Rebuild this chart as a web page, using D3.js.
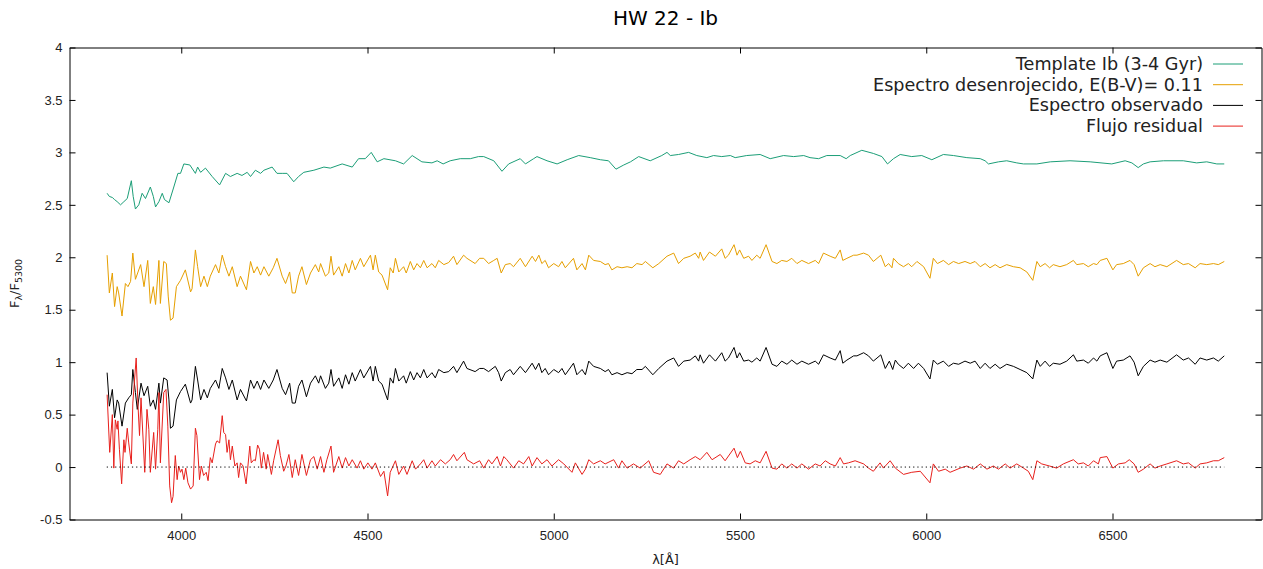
<!DOCTYPE html>
<html>
<head>
<meta charset="utf-8">
<script src="https://cdn.jsdelivr.net/npm/d3@7"></script>
<style>
  body { margin: 0; background: #fff; }
  svg { font-family: "DejaVu Sans", sans-serif; display: block; }
</style>
</head>
<body>
<div id="chart"></div>
<script>
// HW 22 - Ib spectra ([wavelength, F/F5300])
var templateData = [
[3801,2.61],[3807,2.58],[3815,2.57],[3821,2.55],[3828,2.53],[3837,2.50],[3846,2.53],[3855,2.56],[3866,2.73],[3871,2.58],[3877,2.46],[3886,2.50],[3895,2.61],[3904,2.56],[3917,2.67],[3925,2.58],[3931,2.48],[3940,2.53],[3949,2.61],[3955,2.55],[3967,2.52],[3980,2.67],[3991,2.80],[3998,2.80],[4007,2.89],[4023,2.88],[4038,2.80],[4044,2.86],[4052,2.81],[4065,2.85],[4083,2.77],[4103,2.69],[4119,2.80],[4132,2.77],[4150,2.80],[4163,2.78],[4177,2.81],[4186,2.77],[4199,2.83],[4213,2.80],[4222,2.83],[4244,2.86],[4257,2.80],[4271,2.80],[4284,2.80],[4302,2.72],[4315,2.77],[4329,2.81],[4356,2.83],[4383,2.86],[4400,2.85],[4432,2.89],[4459,2.86],[4476,2.94],[4494,2.94],[4510,3.00],[4526,2.91],[4544,2.94],[4575,2.92],[4597,2.89],[4620,2.97],[4646,2.91],[4673,2.90],[4687,2.92],[4703,2.89],[4722,2.92],[4749,2.94],[4776,2.94],[4798,2.96],[4812,2.96],[4839,2.92],[4861,2.82],[4879,2.89],[4910,2.94],[4924,2.89],[4946,2.94],[4955,2.96],[4982,2.92],[5009,2.89],[5036,2.93],[5067,2.97],[5098,2.95],[5125,2.93],[5147,2.92],[5167,2.84],[5188,2.88],[5206,2.91],[5228,2.96],[5259,2.92],[5290,2.97],[5304,3.00],[5313,2.97],[5335,2.98],[5362,3.00],[5384,2.97],[5411,2.95],[5429,2.97],[5451,2.96],[5474,2.97],[5487,2.95],[5518,2.97],[5554,2.98],[5581,2.94],[5617,2.97],[5644,2.96],[5671,2.97],[5688,2.95],[5711,2.94],[5733,2.97],[5769,2.97],[5785,2.94],[5796,2.97],[5827,3.02],[5858,2.99],[5881,2.96],[5896,2.89],[5912,2.94],[5930,2.98],[5961,2.96],[5988,2.97],[6015,2.93],[6046,2.98],[6073,2.97],[6109,2.95],[6145,2.94],[6158,2.92],[6167,2.89],[6194,2.91],[6216,2.92],[6243,2.90],[6261,2.89],[6297,2.89],[6333,2.91],[6386,2.92],[6440,2.91],[6498,2.89],[6534,2.92],[6552,2.90],[6569,2.855],[6583,2.89],[6601,2.91],[6637,2.92],[6690,2.92],[6726,2.90],[6753,2.91],[6780,2.89],[6800,2.89]
];

var derredData = [
[3801,2.02],[3807,1.66],[3815,1.85],[3821,1.53],[3828,1.72],[3832,1.66],[3841,1.44],[3850,1.75],[3857,1.72],[3864,1.77],[3870,2.04],[3877,1.79],[3891,1.93],[3900,1.72],[3910,1.97],[3917,1.56],[3925,1.72],[3931,1.55],[3940,1.97],[3944,1.56],[3953,1.96],[3960,1.94],[3965,1.63],[3971,1.40],[3978,1.42],[3987,1.72],[3998,1.78],[4011,1.88],[4025,1.67],[4029,1.70],[4038,2.07],[4044,1.91],[4052,1.72],[4061,1.82],[4070,1.72],[4078,1.82],[4092,1.93],[4101,1.85],[4110,2.02],[4119,1.91],[4128,1.82],[4137,1.91],[4150,1.72],[4159,1.82],[4175,1.69],[4186,1.96],[4195,1.85],[4204,1.91],[4213,1.83],[4222,1.91],[4235,1.82],[4247,1.90],[4257,1.99],[4271,1.82],[4280,1.75],[4291,1.86],
[4298,1.66],[4306,1.66],[4315,1.82],[4324,1.91],[4336,1.74],[4347,1.85],[4360,1.93],[4369,1.86],[4374,1.94],[4387,1.82],[4396,1.85],[4402,2.01],[4409,1.83],[4423,1.91],[4432,1.82],[4441,1.94],[4450,1.85],[4459,1.97],[4467,1.88],[4481,1.99],[4490,1.91],[4508,2.02],[4515,1.88],[4521,2.02],[4530,1.86],[4539,1.83],[4554,1.69],[4561,1.90],[4569,1.85],[4575,1.99],[4584,1.86],[4597,1.91],[4604,1.85],[4615,1.96],[4624,1.88],[4633,1.94],[4642,1.90],[4651,1.97],[4660,1.90],[4673,1.94],[4682,1.90],[4691,1.97],[4705,1.93],[4718,1.95],[4731,2.01],[4740,1.93],[4758,2.02],[4767,1.99],[4789,1.94],[4801,1.99],
[4812,1.99],[4825,1.94],[4839,1.97],[4848,1.99],[4859,1.85],[4870,1.93],[4883,1.94],[4892,1.91],[4910,1.99],[4924,1.91],[4942,2.01],[4951,1.96],[4960,2.02],[4968,1.94],[4977,1.97],[4986,1.90],[5000,1.94],[5013,1.91],[5022,1.96],[5031,1.90],[5053,1.99],[5062,1.88],[5076,1.94],[5085,1.88],[5094,2.02],[5107,1.97],[5125,1.96],[5138,1.93],[5147,1.94],[5156,1.88],[5170,1.91],[5183,1.90],[5197,1.91],[5210,1.90],[5223,1.94],[5237,1.93],[5246,1.96],[5266,1.90],[5282,1.94],[5304,2.01],
[5322,2.04],[5335,1.94],[5349,1.99],[5366,2.01],[5380,2.04],[5389,1.99],[5393,2.05],[5402,1.97],[5418,2.05],[5434,2.01],[5451,2.08],[5460,1.99],[5469,2.02],[5484,2.12],[5492,2.02],[5499,2.07],[5510,1.99],[5523,2.01],[5532,1.97],[5545,2.02],[5554,1.99],[5570,2.12],[5586,1.96],[5599,1.94],[5612,1.97],[5626,1.96],[5639,1.99],[5653,1.94],[5666,1.97],[5684,1.94],[5702,1.97],[5711,1.94],[5724,2.04],[5742,2.01],[5756,1.99],[5769,2.07],[5776,1.97],[5787,1.99],[5805,2.02],
[5814,2.02],[5832,2.04],[5845,2.02],[5858,1.96],[5878,2.02],[5890,1.91],[5899,1.94],[5908,1.90],[5912,1.99],[5925,1.94],[5939,1.91],[5952,1.94],[5961,1.91],[5975,1.96],[5993,1.91],[6010,1.80],[6019,1.99],[6030,1.94],[6046,1.97],[6060,1.93],[6073,1.96],[6087,1.94],[6104,1.96],[6118,1.94],[6131,1.96],[6145,1.91],[6158,1.94],[6171,1.90],[6185,1.93],[6198,1.90],[6216,1.93],[6234,1.91],[6252,1.90],[6270,1.86],[6286,1.78],[6297,1.96],[6306,1.91],[6319,1.94],[6331,1.90],
[6341,1.93],[6359,1.91],[6377,1.93],[6395,1.97],[6404,1.93],[6422,1.94],[6435,1.91],[6449,1.94],[6458,1.93],[6467,1.97],[6485,1.99],[6501,1.88],[6511,1.93],[6529,1.94],[6547,1.97],[6558,1.93],[6569,1.82],[6583,1.90],[6601,1.94],[6614,1.91],[6628,1.93],[6646,1.91],[6672,1.97],[6690,1.93],[6704,1.94],[6722,1.90],[6735,1.94],[6753,1.93],[6771,1.94],[6784,1.93],[6800,1.96]
];

var observedData = [
[3801,0.90],[3807,0.58],[3815,0.74],[3821,0.47],[3828,0.64],[3832,0.61],[3841,0.39],[3850,0.61],[3859,0.66],[3866,0.69],[3870,0.93],[3877,0.71],[3882,0.55],[3892,0.80],[3900,0.68],[3910,0.77],[3917,0.58],[3925,0.64],[3931,0.55],[3940,0.80],[3944,0.61],[3953,0.85],[3962,0.83],[3967,0.64],[3971,0.37],[3978,0.39],[3987,0.64],[3998,0.72],[4011,0.79],[4025,0.61],[4029,0.64],[4038,0.96],[4044,0.83],[4052,0.64],[4061,0.74],[4070,0.66],[4078,0.75],[4092,0.83],[4101,0.75],[4110,0.94],[4119,0.85],[4128,0.74],[4137,0.83],[4150,0.64],[4159,0.74],[4175,0.63],[4186,0.83],[4195,0.75],[4204,0.82],[4213,0.74],[4222,0.83],[4235,0.75],[4247,0.83],[4257,0.93],[4271,0.75],[4280,0.69],[4291,0.80],
[4298,0.61],[4306,0.61],[4315,0.77],[4324,0.83],[4336,0.67],[4347,0.80],[4360,0.87],[4369,0.80],[4374,0.87],[4387,0.75],[4396,0.80],[4402,0.93],[4409,0.77],[4423,0.85],[4432,0.75],[4441,0.88],[4450,0.79],[4459,0.90],[4467,0.82],[4481,0.93],[4490,0.85],[4508,0.96],[4515,0.82],[4521,0.96],[4530,0.82],[4539,0.79],[4554,0.64],[4561,0.85],[4569,0.80],[4575,0.94],[4584,0.82],[4597,0.87],[4604,0.80],[4615,0.91],[4624,0.83],[4633,0.90],[4642,0.85],[4651,0.93],[4660,0.85],[4673,0.90],[4682,0.85],[4691,0.93],[4705,0.90],[4718,0.91],[4731,0.96],[4740,0.90],[4758,1.01],[4767,0.94],[4789,0.91],[4801,0.94],
[4812,0.94],[4825,0.91],[4843,0.96],[4852,0.90],[4859,0.82],[4870,0.90],[4883,0.93],[4892,0.88],[4910,0.96],[4924,0.90],[4942,0.99],[4951,0.93],[4960,0.99],[4968,0.90],[4977,0.94],[4986,0.88],[5000,0.93],[5013,0.90],[5022,0.94],[5031,0.88],[5053,0.99],[5062,0.88],[5076,0.93],[5085,0.88],[5094,1.01],[5107,0.96],[5125,0.94],[5138,0.91],[5147,0.93],[5156,0.88],[5170,0.90],[5183,0.88],[5197,0.90],[5210,0.89],[5223,0.93],[5237,0.93],[5246,0.96],[5266,0.88],[5282,0.94],[5304,1.01],
[5322,1.04],[5335,0.96],[5349,1.01],[5366,1.02],[5380,1.06],[5389,1.01],[5393,1.07],[5402,0.99],[5418,1.07],[5434,1.01],[5451,1.09],[5460,1.01],[5469,1.04],[5484,1.14],[5492,1.04],[5499,1.09],[5510,1.01],[5523,1.02],[5532,1.00],[5545,1.04],[5554,1.01],[5570,1.14],[5586,0.98],[5599,0.96],[5612,1.01],[5626,0.98],[5639,1.02],[5653,0.98],[5666,1.01],[5684,0.98],[5702,1.01],[5711,0.98],[5724,1.07],[5742,1.04],[5756,1.02],[5769,1.11],[5776,0.99],[5787,1.02],[5805,1.06],
[5814,1.06],[5832,1.09],[5845,1.06],[5858,1.01],[5878,1.07],[5890,0.94],[5901,1.01],[5910,0.93],[5917,1.02],[5925,0.98],[5939,0.94],[5952,0.99],[5966,0.94],[5979,0.99],[5993,0.94],[6010,0.84],[6019,1.02],[6030,0.98],[6046,1.01],[6060,0.96],[6073,0.99],[6087,0.98],[6104,1.01],[6118,0.99],[6131,1.01],[6145,0.94],[6158,0.99],[6171,0.94],[6185,0.98],[6198,0.94],[6216,0.98],[6234,0.96],[6252,0.93],[6270,0.90],[6286,0.84],[6297,1.02],[6306,0.96],[6319,1.01],[6331,0.96],
[6341,0.99],[6359,0.98],[6377,1.01],[6395,1.07],[6404,1.01],[6422,1.02],[6435,0.99],[6449,1.04],[6458,1.01],[6467,1.06],[6485,1.09],[6501,0.94],[6511,1.01],[6529,1.02],[6547,1.06],[6558,1.00],[6569,0.87],[6583,0.96],[6601,1.02],[6614,1.00],[6628,1.02],[6646,1.00],[6672,1.07],[6690,1.02],[6704,1.04],[6722,0.98],[6735,1.04],[6753,1.02],[6771,1.04],[6784,1.01],[6800,1.06]
];

var residualData = [
[3801,0.69],[3808,0.14],[3815,0.50],[3819,-0.01],[3823,0.45],[3828,0.36],[3830,0.44],[3834,0.17],[3840,-0.16],[3846,0.26],[3849,0.14],[3855,0.37],[3859,0.23],[3866,0.03],[3870,0.61],[3879,1.04],[3884,0.58],[3888,0.30],[3892,0.66],[3902,-0.05],[3908,0.55],[3913,0.36],[3917,-0.05],[3926,0.33],[3931,-0.02],[3937,0.36],[3940,0.71],[3944,0.04],[3953,0.71],[3959,0.74],[3964,0.39],[3969,-0.18],[3974,-0.34],[3978,-0.28],[3984,0.11],[3989,-0.12],[3993,0.01],[3998,-0.05],[4002,-0.02],[4007,-0.12],[4012,-0.01],[4018,-0.15],[4025,-0.21],[4032,-0.18],[4038,0.37],[4042,0.30],[4049,-0.12],[4054,0.01],[4060,-0.08],[4067,-0.05],[4072,-0.13],[4078,0.09],[4083,0.04],[4092,0.22],[4096,0.25],[4103,0.23],[4110,0.49],[4114,0.33],[4119,0.31],[4123,0.14],[4128,0.26],[4132,0.07],[4137,0.20],[4144,0.01],[4150,0.04],[4154,-0.10],[4159,0.04],[4166,0.01],[4174,-0.16],[4179,0.01],[4184,0.20],[4188,0.04],[4195,0.07],[4199,0.06],[4205,0.21],[4210,0.17],[4215,-0.01],[4221,0.14],[4228,-0.02],[4232,0.12],[4242,-0.07],[4248,0.06],[4260,0.26],[4266,0.11],[4275,-0.04],[4281,0.01],[4289,0.12],[4298,-0.10],[4306,0.07],[4315,-0.08],[4324,0.12],[4336,-0.08],
[4347,0.07],[4356,0.10],[4365,-0.02],[4374,0.10],[4383,-0.05],[4391,0.07],[4402,0.20],[4409,-0.05],[4423,0.10],[4432,-0.01],[4441,0.09],[4450,0.01],[4459,0.07],[4472,-0.01],[4481,0.06],[4490,-0.02],[4501,0.04],[4512,-0.02],[4521,0.04],[4535,-0.09],[4544,-0.04],[4554,-0.275],[4561,-0.05],[4575,0.06],[4584,-0.07],[4597,0.01],[4606,-0.07],[4620,0.06],[4629,-0.02],[4642,0.03],[4651,0.07],[4660,-0.01],[4673,0.06],[4682,0.01],[4696,0.07],[4709,0.03],[4722,0.07],[4731,0.12],[4740,0.06],[4760,0.14],[4767,0.07],[4785,0.03],[4801,0.06],
[4812,-0.01],[4825,0.07],[4834,0.03],[4848,0.10],[4857,0.01],[4866,0.10],[4874,0.07],[4892,-0.01],[4906,0.06],[4919,0.03],[4933,0.10],[4942,0.01],[4955,0.09],[4968,0.03],[4982,0.07],[4995,0.01],[5013,0.07],[5027,0.03],[5049,-0.05],[5058,0.04],[5076,-0.07],[5085,-0.02],[5094,0.07],[5107,0.03],[5125,0.06],[5138,0.03],[5161,0.07],[5174,-0.01],[5183,0.06],[5197,-0.01],[5214,0.03],[5232,-0.01],[5255,0.06],[5268,-0.05],[5286,-0.07],[5304,0.03],
[5322,-0.01],[5335,0.06],[5349,0.03],[5366,0.07],[5380,0.10],[5393,0.07],[5411,0.14],[5425,0.07],[5447,0.12],[5460,0.06],[5484,0.18],[5493,0.09],[5501,0.15],[5514,0.04],[5527,0.03],[5541,0.06],[5554,0.04],[5570,0.15],[5586,-0.01],[5599,-0.02],[5612,0.03],[5626,-0.01],[5639,0.03],[5653,-0.01],[5666,0.03],[5684,-0.02],[5702,0.03],[5715,0.01],[5729,0.06],[5742,0.03],[5756,0.01],[5769,0.09],[5778,0.03],[5791,0.04],[5809,0.06],
[5832,0.03],[5845,-0.01],[5858,-0.04],[5876,0.04],[5885,-0.01],[5903,0.06],[5917,-0.01],[5939,-0.07],[5961,-0.05],[5984,-0.04],[6010,-0.15],[6019,0.03],[6033,-0.04],[6051,-0.02],[6064,-0.05],[6091,-0.01],[6109,0.01],[6127,-0.02],[6145,0.03],[6163,-0.02],[6180,0.01],[6194,-0.02],[6212,0.03],[6225,-0.01],[6243,0.03],[6261,-0.01],[6274,-0.04],[6286,-0.12],[6297,0.06],[6310,0.03],[6331,0.01],
[6350,-0.01],[6368,0.03],[6395,0.07],[6408,0.03],[6422,0.04],[6435,0.01],[6449,0.06],[6462,0.03],[6467,0.09],[6485,0.10],[6501,-0.01],[6516,0.03],[6534,0.04],[6545,0.07],[6558,0.03],[6569,-0.05],[6583,-0.02],[6601,0.03],[6614,-0.01],[6628,0.01],[6646,0.03],[6672,0.06],[6690,0.03],[6704,0.04],[6722,-0.01],[6735,0.03],[6753,0.04],[6771,0.06],[6784,0.06],[6800,0.09]
];

var seriesLabels = ["Template Ib (3-4 Gyr)", "Espectro desenrojecido, E(B-V)= 0.11", "Espectro observado", "Flujo residual"];
var seriesColors = ["#1b9e77", "#e69f00", "#000000", "#e8201c"];
var xTicks = [4000, 4500, 5000, 5500, 6000, 6500];
var yTicks = [-0.5, 0, 0.5, 1, 1.5, 2, 2.5, 3, 3.5, 4];
var zeroRange = [3800, 6800];

(function() {
    var svgWidth = 1263, svgHeight = 569;
    var plotLeft = 69.5, plotRight = 1261.5, plotTop = 47.5, plotBottom = 519.5;

    var svg = d3.select("#chart").append("svg")
        .attr("width", svgWidth)
        .attr("height", svgHeight);

    var x = d3.scaleLinear().domain([3700, 6900]).range([plotLeft, plotRight]);
    var y = d3.scaleLinear().domain([-0.5, 4]).range([plotBottom, plotTop]);

    // title
    svg.append("text")
        .attr("x", (plotLeft + plotRight) / 2)
        .attr("y", 25)
        .attr("text-anchor", "middle")
        .style("font-size", "20px")
        .text("HW 22 - Ib");

    // axes, gnuplot style: ticks inward on all four sides
    function styleAxis(g) {
        g.selectAll("path.domain").attr("stroke", "#000").attr("stroke-width", 1);
        g.selectAll(".tick line").attr("stroke", "#000");
        g.selectAll(".tick text").style("font-size", "13px").attr("fill", "#222");
    }

    svg.append("g")
        .attr("transform", "translate(0," + plotBottom + ")")
        .call(d3.axisBottom(x).tickValues(xTicks).tickSize(-6).tickSizeOuter(0).tickPadding(11).tickFormat(d3.format("d")))
        .call(styleAxis);

    svg.append("g")
        .attr("transform", "translate(0," + plotTop + ")")
        .call(d3.axisTop(x).tickValues(xTicks).tickSize(-6).tickSizeOuter(0).tickFormat(""))
        .call(styleAxis);

    svg.append("g")
        .attr("transform", "translate(" + plotLeft + ",0)")
        .call(d3.axisLeft(y).tickValues(yTicks).tickSize(-6).tickSizeOuter(0).tickPadding(7).tickFormat(function(d) { return String(d); }))
        .call(styleAxis);

    svg.append("g")
        .attr("transform", "translate(" + plotRight + ",0)")
        .call(d3.axisRight(y).tickValues(yTicks).tickSize(-6).tickSizeOuter(0).tickFormat(""))
        .call(styleAxis);

    // axis labels
    svg.append("text")
        .attr("x", (plotLeft + plotRight) / 2)
        .attr("y", 564)
        .attr("text-anchor", "middle")
        .style("font-size", "13px")
        .attr("fill", "#222")
        .text("λ[Å]");

    var ylab = svg.append("text")
        .attr("transform", "translate(19," + ((plotTop + plotBottom) / 2) + ") rotate(-90)")
        .attr("text-anchor", "middle")
        .style("font-size", "13px")
        .attr("fill", "#222");
    ylab.append("tspan").text("F");
    ylab.append("tspan").attr("dy", 3).style("font-size", "9.5px").text("λ");
    ylab.append("tspan").attr("dy", -3).text("/F");
    ylab.append("tspan").attr("dy", 3).style("font-size", "9.5px").text("5300");

    // spectra
    var line = d3.line()
        .x(function(d) { return x(d[0]); })
        .y(function(d) { return y(d[1]); });

    var allSeries = [templateData, derredData, observedData, residualData];

    svg.selectAll(".spec")
        .data(allSeries)
        .enter().append("path")
        .attr("class", "spec")
        .attr("fill", "none")
        .attr("stroke", function(d, i) { return seriesColors[i]; })
        .attr("stroke-width", 1)
        .attr("stroke-linejoin", "round")
        .attr("d", line);

    // dotted zero line
    svg.append("line")
        .attr("x1", x(zeroRange[0]))
        .attr("x2", x(zeroRange[1]))
        .attr("y1", y(0))
        .attr("y2", y(0))
        .attr("stroke", "#000")
        .attr("stroke-width", 1)
        .attr("stroke-dasharray", "1.2,3");

    // legend
    var legend = svg.append("g");
    seriesLabels.forEach(function(label, i) {
        var ly = 64 + i * 20.7;
        legend.append("text")
            .attr("x", 1203)
            .attr("y", ly + 6)
            .attr("text-anchor", "end")
            .style("font-size", "17.6px")
            .attr("fill", "#222")
            .text(label);
        legend.append("line")
            .attr("x1", 1213).attr("x2", 1243)
            .attr("y1", ly).attr("y2", ly)
            .attr("stroke", seriesColors[i])
            .attr("stroke-width", 1);
    });
})();
</script>
</body>
</html>
